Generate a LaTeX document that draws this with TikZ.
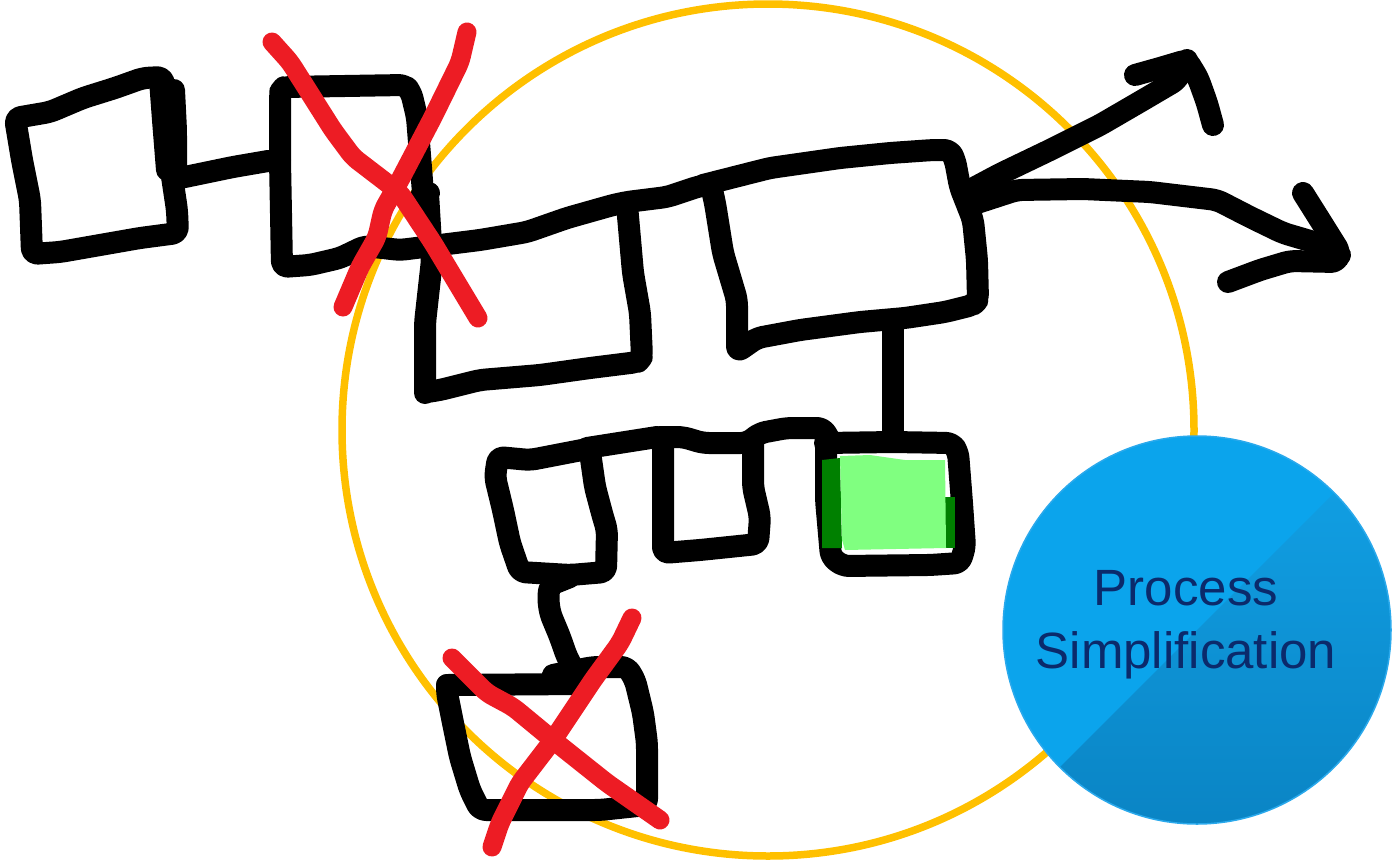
\documentclass[tikz,border=0pt]{standalone}
\usepackage{fontspec}
\setmainfont{Liberation Sans}
\definecolor{xred}{HTML}{ED1C24}
\definecolor{xyellow}{HTML}{FFC000}
\definecolor{xblue}{HTML}{0BA4EC}
\definecolor{xbluetop}{HTML}{12A3E8}
\definecolor{xbluemid}{HTML}{12A0E2}
\definecolor{xbluebot}{HTML}{0A84C4}
\definecolor{xrim}{HTML}{2AA9EC}
\definecolor{navy}{HTML}{0B2A6B}
\definecolor{lgreen}{HTML}{80FF80}
\definecolor{dgreen}{HTML}{008000}
\begin{document}
\begin{tikzpicture}[x=1pt,y=-1pt,
  ink/.style={line width=22pt,line cap=round,line join=round,rounded corners=6pt},
  redink/.style={ink,line width=19pt,draw=xred},
  label/.style={text=navy,font=\fontsize{51}{60}\selectfont,anchor=base}]
\useasboundingbox (0,0) rectangle (1392,860);
% yellow circle
\draw[xyellow,line width=7.5pt] (768,430) circle[radius=426pt];
% ---- black sketch ----
% box 1
\draw[ink] (15,118) -- (50,112) -- (83,98) -- (115,88) -- (143,78) -- (163,77)
  -- (168,110) -- (171,170) -- (177,210) -- (178,233) -- (140,238) -- (100,245)
  -- (60,252) -- (32,254) -- (30,200) -- (22,160) -- cycle;
\draw[ink] (160,80) -- (163,120) -- (167,170);
\draw[ink] (174,90) -- (176,130) -- (176,170);
% connector 1-2
\draw[ink] (180,178) -- (233,167) -- (268,161);
% box 2 left/top/right and long line
\draw[ink] (280,160) -- (280,92) -- (284,87) -- (405,85) -- (411,92)
  -- (417,117) -- (423,193) -- (428,193) -- (432,260) -- (425,323) -- (425,393);
\draw[ink] (280,160) -- (282,267) -- (310,265) -- (340,258) -- (365,246) -- (400,250)
  -- (440,245) -- (480,240) -- (527,232) -- (567,218) -- (613,205) -- (627,202)
  -- (667,197) -- (700,186) -- (712,185);
% box 3
\draw[ink] (627,205) -- (633,273) -- (640,313) -- (642,357) -- (638,362)
  -- (590,368) -- (540,375) -- (480,380) -- (440,390) -- (427,392);
% box 4
\draw[ink] (703,185) -- (770,168) -- (840,158) -- (890,153) -- (933,150) -- (950,150)
  -- (955,160) -- (960,187) -- (973,220) -- (977,260) -- (978,300) -- (973,305)
  -- (945,312) -- (905,318) -- (860,322) -- (800,330) -- (757,338) -- (737,352)
  -- (737,300) -- (723,253) -- (715,203) -- (712,190);
% arrows
\draw[ink] (970,190) -- (1000,174) -- (1050,150) -- (1100,125) -- (1143,100)
  -- (1177,80) -- (1187,60);
\draw[ink] (1135,75) -- (1160,68) -- (1187,60) -- (1198,78) -- (1207,103) -- (1213,125);
\draw[ink] (977,203) -- (1017,190) -- (1083,189) -- (1150,192) -- (1217,200)
  -- (1250,217) -- (1283,233) -- (1317,243) -- (1340,255);
\draw[ink] (1303,193) -- (1320,220) -- (1340,252) -- (1337,262) -- (1290,261)
  -- (1260,270) -- (1228,282);
% connector 4 - row
\draw[ink] (893,325) -- (893,440);
% row: box 5
\draw[ink] (587,449) -- (530,460) -- (498,457) -- (495,477) -- (503,510) -- (510,543)
  -- (520,572) -- (570,575) -- (606,572) -- (607,530) -- (603,517) -- (595,487) -- (590,452);
\draw[ink] (587,448) -- (657,437);
% box 6
\draw[ink] (660,437) -- (683,437) -- (703,443) -- (747,443) -- (760,433) -- (787,428)
  -- (823,428) -- (830,440);
\draw[ink] (663,437) -- (663,553) -- (700,550) -- (758,544) -- (760,517) -- (753,487) -- (753,443);
% box 7
\draw[ink] (825,443) -- (893,442) -- (952,443) -- (958,452) -- (962,503) -- (965,547)
  -- (960,563) -- (930,565) -- (843,566) -- (831,557) -- (826,500) -- (826,443);
% connector 5 - 8
\draw[ink] (570,577) -- (550,585) -- (548,597) -- (550,613) -- (560,637) -- (567,657) -- (573,668);
% box 8
\draw[ink] (447,685) -- (580,684);
\draw[ink] (553,675) -- (593,667) -- (627,667) -- (635,680) -- (643,713) -- (647,743)
  -- (647,805) -- (600,810) -- (560,810) -- (480,810) -- (470,790) -- (460,757)
  -- (453,723) -- (447,693) -- (447,685);
% green fill
\fill[dgreen] (822,460) -- (840,458) -- (842,548) -- (822,548) -- cycle;
\fill[dgreen] (945,497) -- (955,497) -- (955,548) -- (945,548) -- cycle;
\fill[lgreen] (840,456) -- (870,455) -- (905,460) -- (945,460) -- (946,548)
  -- (845,550) -- (842,540) -- cycle;
% red crosses
\draw[redink] (272,42) -- (290,62) -- (333,130) -- (353,157) -- (400,193) -- (433,243) -- (478,318);
\draw[redink] (467,32) -- (460,62) -- (433,117) -- (400,180) -- (383,210) -- (377,237)
  -- (360,267) -- (343,307);
\draw[redink] (452,658) -- (487,693) -- (513,707) -- (553,740) -- (607,783) -- (660,820);
\draw[redink] (632,618) -- (620,643) -- (593,680) -- (553,740) -- (520,783) -- (500,823) -- (492,847);
% blue circle
\fill[xblue] (1197,630) circle[radius=194pt];
\begin{scope}
  \clip (1197,630) circle[radius=194pt];
  \shade[top color=xbluetop,middle color=xbluemid,bottom color=xbluebot] (1000,827) -- (1402,425) -- (1402,830) -- (1000,830) -- cycle;
\end{scope}
\draw[xrim,line width=1.5pt] (1197,630) circle[radius=194pt];
\node[label] (t1) at (1186,605) {Process};
\node[label] (t2) at (1186,668) {Simplification};
\end{tikzpicture}
\end{document}
